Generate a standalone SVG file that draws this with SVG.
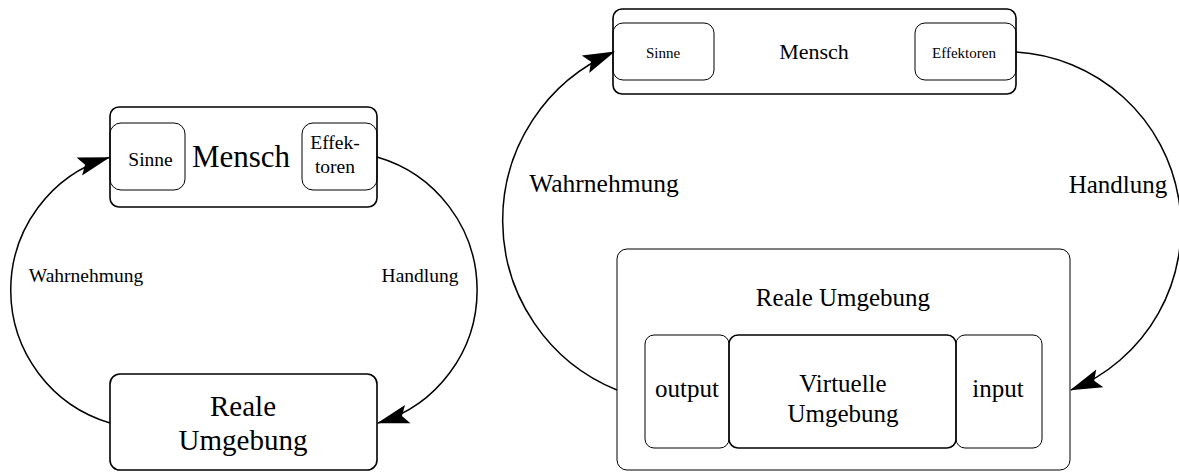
<svg xmlns="http://www.w3.org/2000/svg" width="1179" height="472" viewBox="0 0 1179 472">
  <style>
    .box { fill: none; stroke: #000; stroke-width: 1.6; }
    .sub { fill: none; stroke: #000; stroke-width: 1; }
    .core { fill: none; stroke: #000; stroke-width: 1.5; }
    .flow { fill: none; stroke: #000; stroke-width: 1.5; }
    text { font-family: "Liberation Serif", "Times New Roman", serif; fill: #000; text-anchor: middle; }
  </style>
  <defs>
    <!-- notched filled arrowhead, tip at the path end -->
    <marker id="head" markerUnits="userSpaceOnUse" orient="auto" refX="0" refY="0"
            markerWidth="1" markerHeight="1" overflow="visible">
      <path d="M1,0 L-31,-9.5 L-25,0 L-31,9.5 Z" fill="#000"/>
    </marker>
  </defs>

  <rect width="1179" height="472" fill="#fff"/>

  <!-- Simple loop: human and real environment -->
  <g id="mensch-a">
    <rect class="box" x="110" y="107" width="267" height="100" rx="9"/>
    <text x="241" y="167" font-size="31">Mensch</text>
  </g>
  <g id="sinne-a">
    <rect class="sub" x="110" y="123" width="75" height="67" rx="11"/>
    <text x="150.5" y="166" font-size="19.5">Sinne</text>
  </g>
  <g id="effektoren-a">
    <rect class="sub" x="302" y="123" width="75" height="67" rx="11"/>
    <text x="335" y="149" font-size="19.5">Effek-</text>
    <text x="335" y="173" font-size="19.5">toren</text>
  </g>
  <g id="reale-a">
    <rect class="box" x="110" y="374" width="267" height="96" rx="10"/>
    <text x="243" y="416" font-size="29">Reale</text>
    <text x="243" y="450" font-size="29">Umgebung</text>
  </g>

  <!-- Extended loop: real environment containing a virtual one -->
  <g id="mensch-b">
    <rect class="box" x="613" y="9" width="403" height="85" rx="9"/>
    <text x="814" y="59" font-size="22">Mensch</text>
  </g>
  <g id="sinne-b">
    <rect class="sub" x="613" y="23" width="101" height="57" rx="10"/>
    <text x="663" y="58" font-size="15">Sinne</text>
  </g>
  <g id="effektoren-b">
    <rect class="sub" x="915" y="23" width="101" height="57" rx="10"/>
    <text x="964" y="58" font-size="15">Effektoren</text>
  </g>
  <g id="reale-b">
    <rect class="sub" x="617" y="249" width="453" height="221" rx="10"/>
    <text x="843" y="306" font-size="25">Reale Umgebung</text>
  </g>
  <g id="output">
    <rect class="sub" x="645" y="335" width="84" height="113" rx="9"/>
    <text x="687" y="397" font-size="25">output</text>
  </g>
  <g id="virtuelle">
    <rect class="core" x="729" y="335" width="227" height="113" rx="9"/>
    <text x="843" y="392" font-size="25">Virtuelle</text>
    <text x="843" y="422" font-size="25">Umgebung</text>
  </g>
  <g id="input">
    <rect class="sub" x="956" y="335" width="86" height="113" rx="9"/>
    <text x="998" y="397" font-size="25">input</text>
  </g>

  <g id="connectors">
    <!-- Wahrnehmung: environment to senses -->
    <path class="flow" d="M110,423 A138.6,138.6 0 0 1 109,157.5" marker-end="url(#head)"/>
    <!-- Handlung: effectors to environment -->
    <path class="flow" d="M377,157 A138.6,138.6 0 0 1 378,423" marker-end="url(#head)"/>
    <path class="flow" d="M617,390 A183,183 0 0 1 614,52" marker-end="url(#head)"/>
    <path class="flow" d="M1016,52 A175.5,175.5 0 0 1 1071,390" marker-end="url(#head)"/>
  </g>

  <g id="labels">
    <text x="86" y="282" font-size="19.5">Wahrnehmung</text>
    <text x="420" y="282" font-size="19.5">Handlung</text>
    <text x="604" y="192" font-size="25.5">Wahrnehmung</text>
    <text x="1118" y="193" font-size="25">Handlung</text>
  </g>
</svg>
